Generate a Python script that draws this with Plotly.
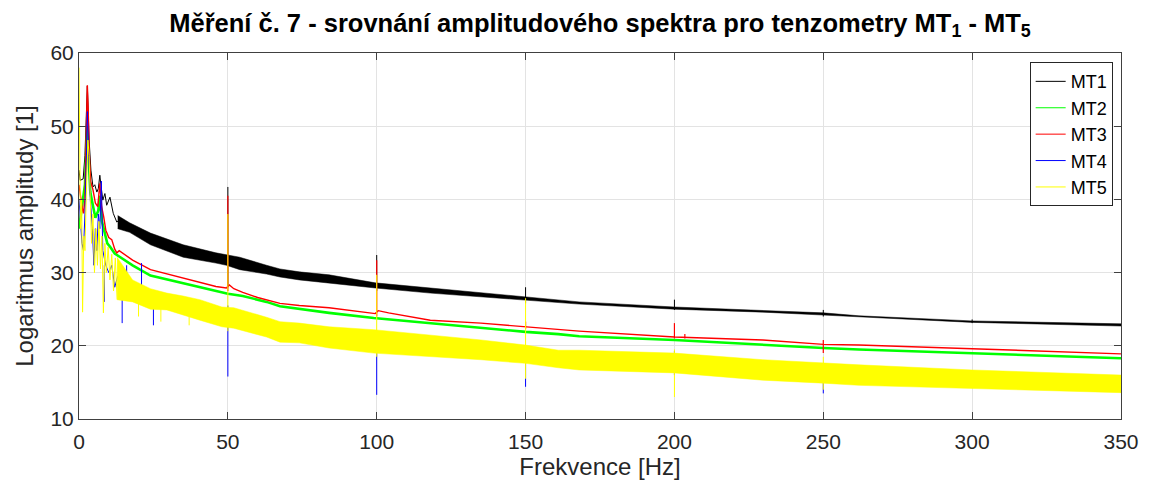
import plotly.graph_objects as go

# ---------------- data ----------------
X_TICKS = [0, 50, 100, 150, 200, 250, 300, 350]
Y_TICKS = [10, 20, 30, 40, 50, 60]
SERIES = ["MT1", "MT2", "MT3", "MT4", "MT5"]

# MT1 (black)
mt1_line_f = [0, 0.4, 1.4, 2.0, 2.5, 2.8, 3.1, 3.4, 4.0, 4.7, 5.3, 6.0, 6.5, 7.0, 7.5, 8.0, 8.7, 9.3, 10.4, 11.5, 12.7, 14.0]
mt1_line_v = [44.0, 42.6, 42.8, 46.0, 52.0, 55.5, 52.0, 48.1, 44.0, 41.7, 42.0, 41.0, 41.5, 43.3, 41.5, 39.9, 40.8, 39.2, 40.3, 38.1, 36.9, 37.4]
mt1_band_f = [13, 17, 24, 35, 46, 49.5, 54, 63, 67.5, 74, 84, 99.5, 118, 135, 150, 161, 168, 200, 229.7, 250, 262, 300, 350]
mt1_band_hi = [37.8, 36.8, 35.4, 33.8, 32.7, 32.4, 32.1, 31.0, 30.5, 30.1, 29.7, 28.6, 27.9, 27.2, 26.7, 26.3, 26.0, 25.3, 24.8, 24.5, 24.1, 23.4, 23.0]
mt1_band_lo = [36.0, 35.5, 33.8, 32.1, 31.3, 31.0, 30.4, 29.8, 29.4, 29.0, 28.6, 27.9, 27.2, 26.7, 26.3, 25.9, 25.7, 25.0, 24.6, 24.2, 23.9, 23.2, 22.7]
mt1_spike_f = [50, 100, 150, 200, 250, 300]
mt1_spike_lo = [28.0, 27.5, 25.8, 24.9, 24.0, 23.1]
mt1_spike_hi = [41.7, 32.4, 28.0, 26.3, 24.9, 23.6]

# MT2 (green)
mt2_line_f = [0, 0.5, 1.2, 2.0, 2.5, 2.8, 3.2, 3.8, 4.5, 5.5, 6.5, 7.0, 7.7, 8.5, 9.5, 10.5, 12.0, 13.5, 18, 24, 35, 46, 50, 55, 63, 67.5, 84, 99, 118, 135, 150, 161, 168, 200, 229.7, 250, 262, 300, 350]
mt2_line_v = [36.0, 37.5, 39.0, 42.0, 47.0, 50.0, 46.0, 41.0, 39.5, 37.5, 38.5, 40.5, 37.0, 35.5, 34.0, 33.5, 32.6, 32.2, 31.0, 29.6, 28.5, 27.4, 27.1, 26.8, 26.0, 25.4, 24.5, 23.8, 23.1, 22.5, 21.9, 21.6, 21.3, 20.8, 20.1, 19.7, 19.5, 19.0, 18.3]

# MT3 (red)
mt3_line_f = [0, 0.5, 1.0, 1.5, 2.0, 2.4, 2.8, 3.1, 3.4, 3.9, 4.7, 5.5, 6.3, 7.0, 7.6, 8.3, 9.0, 10.0, 11.0, 12.0, 12.7, 13.5, 18, 24, 35, 46, 49.5, 50.5, 52, 55, 60, 67.5, 74, 84, 99.5, 100.5, 104, 118, 135, 150, 161, 168, 200, 229.7, 250, 262, 300, 350]
mt3_line_v = [42.0, 40.3, 39.0, 38.1, 40.0, 48.0, 55.6, 52.0, 46.7, 42.5, 41.3, 39.5, 39.0, 42.2, 39.0, 37.6, 35.8, 34.8, 34.5, 33.2, 32.7, 33.0, 31.7, 30.4, 29.3, 28.1, 27.9, 28.3, 27.8, 27.3, 26.6, 25.8, 25.5, 25.2, 24.4, 24.8, 24.5, 23.5, 23.1, 22.6, 22.3, 22.0, 21.2, 20.8, 20.2, 20.1, 19.6, 18.9]
mt3_spike_f = [50, 100, 150, 200, 203.5, 250]
mt3_spike_lo = [27.5, 24.0, 22.3, 21.0, 21.0, 19.0]
mt3_spike_hi = [40.5, 31.7, 23.3, 23.1, 21.6, 20.8]

# MT4 (blue)
mt4_line_f = [0, 0.5, 1.0, 1.5, 2.0, 2.5, 2.8, 3.2, 3.8, 4.5, 5.0, 5.5, 6.0, 6.5, 7.0, 7.5, 8.0, 9.0, 10.0, 11.0, 12.0, 13.0, 24, 35, 46, 52, 63, 74, 84, 99, 118, 135, 150, 168, 200, 229.7, 250, 262, 300, 350]
mt4_line_v = [40.0, 37.0, 34.0, 33.0, 38.0, 46.0, 52.0, 47.0, 40.0, 36.0, 31.0, 36.0, 33.0, 38.0, 36.0, 42.5, 33.0, 31.0, 30.0, 31.0, 28.0, 29.5, 26.4, 25.5, 24.0, 23.8, 22.5, 21.7, 21.1, 20.6, 20.0, 19.4, 18.8, 18.0, 17.6, 16.7, 16.2, 16.0, 15.4, 14.8]
mt4_spike_f = [8.5, 14.5, 16, 21, 25, 49.5, 50, 100, 150, 200, 250]
mt4_spike_lo = [26.0, 23.1, 27.0, 28.0, 22.8, 23.5, 15.8, 13.3, 14.4, 16.0, 13.5]
mt4_spike_hi = [31.0, 29.0, 31.0, 31.3, 27.0, 25.0, 25.5, 20.5, 18.5, 19.3, 16.0]

# MT5 (yellow)
mt5_line_f = [0, 0.2, 0.5, 0.9, 1.2, 1.6, 2.0, 2.4, 2.7, 3.0, 3.4, 3.7, 4.2, 4.7, 5.2, 5.7, 6.2, 6.7, 7.2, 7.7, 8.2, 8.7, 9.2, 9.8, 10.4, 11.0, 11.6, 12.2, 12.8]
mt5_line_v = [58.0, 42.0, 36.0, 40.0, 24.6, 35.0, 33.0, 40.0, 46.0, 48.1, 46.0, 41.7, 34.0, 38.0, 30.0, 36.0, 31.0, 37.0, 30.5, 35.0, 24.5, 34.0, 30.0, 33.5, 29.0, 32.5, 27.5, 32.0, 26.3]
mt5_band_f = [12.8, 18, 24, 29.5, 35, 40.6, 48, 52, 63, 67.5, 74, 84, 99, 118, 135, 150, 161, 168, 200, 229.7, 250, 262, 300, 350]
mt5_band_hi = [32.1, 29.0, 27.8, 27.2, 26.8, 26.3, 25.3, 25.2, 23.9, 23.3, 23.1, 22.6, 22.2, 21.5, 20.8, 20.1, 19.4, 19.4, 19.0, 18.1, 17.6, 17.4, 16.7, 16.0]
mt5_band_lo = [26.3, 26.0, 25.0, 24.9, 24.2, 23.5, 22.6, 22.4, 21.2, 20.5, 20.4, 19.7, 19.0, 18.5, 18.1, 17.6, 17.0, 16.7, 16.3, 15.3, 14.9, 14.6, 14.2, 13.6]
mt5_spike_f = [20, 27.5, 37, 50, 100, 150, 200, 250]
mt5_spike_lo = [24.0, 23.3, 22.8, 22.0, 18.5, 15.5, 13.0, 14.0]
mt5_spike_hi = [28.0, 27.0, 26.0, 38.0, 29.7, 26.5, 19.5, 18.5]

COLORS = {"MT1": "#000000", "MT2": "#00ff00", "MT3": "#ff0000", "MT4": "#0000ff", "MT5": "#ffff00"}

# ---------------- helpers ----------------
def spike_xy(fs, los, his):
    xs, ys = [], []
    for f, lo, hi in zip(fs, los, his):
        xs += [f, f, None]
        ys += [lo, hi, None]
    return xs, ys


def band_xy(fs, his, los):
    return list(fs) + list(fs)[::-1], list(his) + list(los)[::-1]


fig = go.Figure()


def add_band(fs, his, los, color):
    bx, by = band_xy(fs, his, los)
    fig.add_trace(go.Scatter(x=bx, y=by, mode="lines", fill="toself", fillcolor=color,
                             line=dict(color=color, width=0.5), showlegend=False, hoverinfo="skip"))


def add_line(fs, vs, color, width):
    fig.add_trace(go.Scatter(x=fs, y=vs, mode="lines", line=dict(color=color, width=width),
                             showlegend=False, hoverinfo="skip"))


def add_spikes(fs, los, his, color, width=1):
    sx, sy = spike_xy(fs, los, his)
    fig.add_trace(go.Scatter(x=sx, y=sy, mode="lines", line=dict(color=color, width=width),
                             showlegend=False, hoverinfo="skip", connectgaps=False))


# MT1
add_line(mt1_line_f, mt1_line_v, COLORS["MT1"], 1)
add_band(mt1_band_f, mt1_band_hi, mt1_band_lo, COLORS["MT1"])
add_spikes(mt1_spike_f, mt1_spike_lo, mt1_spike_hi, COLORS["MT1"])
# MT2
add_line(mt2_line_f, mt2_line_v, COLORS["MT2"], 2.6)
# MT3
add_line(mt3_line_f, mt3_line_v, COLORS["MT3"], 1.4)
add_spikes(mt3_spike_f, mt3_spike_lo, mt3_spike_hi, COLORS["MT3"], 1.2)
# MT4
add_line(mt4_line_f, mt4_line_v, COLORS["MT4"], 1)
add_spikes(mt4_spike_f, mt4_spike_lo, mt4_spike_hi, COLORS["MT4"])
# MT5
add_line(mt5_line_f, mt5_line_v, COLORS["MT5"], 1)
add_band(mt5_band_f, mt5_band_hi, mt5_band_lo, COLORS["MT5"])
add_spikes(mt5_spike_f, mt5_spike_lo, mt5_spike_hi, COLORS["MT5"])

# legend entries
for name in SERIES:
    fig.add_trace(go.Scatter(x=[None], y=[None], mode="lines", name=name,
                             line=dict(color=COLORS[name], width=1)))

FONT = "Liberation Sans, Arial, sans-serif"
AX_COLOR = "#404040"
GRID = "#e3e3e3"

fig.update_layout(
    width=1142, height=484,
    margin=dict(l=71, r=29, t=45, b=73, autoexpand=False),
    paper_bgcolor="white", plot_bgcolor="white",
    font=dict(family=FONT, color="#262626", size=21),
    title=dict(
        text="<b>Měření č. 7 - srovnání amplitudového spektra pro tenzometry MT<sub>1</sub> - MT<sub>5</sub></b>",
        font=dict(family=FONT, size=25.5, color="#000000"),
        x=0.5, xref="paper", xanchor="center", y=0.988, yref="container", yanchor="top",
        automargin=False),
    legend=dict(x=0.992, y=0.975, xanchor="right", yanchor="top", bgcolor="white",
                bordercolor="#262626", borderwidth=1, font=dict(size=18, color="#000000", family=FONT),
                tracegroupgap=0, itemwidth=30),
    showlegend=True,
)

fig.update_xaxes(range=[0, 350], tickvals=X_TICKS, showgrid=True, gridcolor=GRID, gridwidth=1,
                 ticks="inside", ticklen=7, tickcolor=AX_COLOR, showline=True, linecolor=AX_COLOR,
                 linewidth=1, mirror="ticks", zeroline=False, automargin=False, ticklabelstandoff=4,
                 title=dict(text="Frekvence [Hz]", font=dict(size=24), standoff=4))
fig.update_yaxes(range=[10, 60], tickvals=Y_TICKS, showgrid=True, gridcolor=GRID, gridwidth=1,
                 ticks="inside", ticklen=7, tickcolor=AX_COLOR, showline=True, linecolor=AX_COLOR,
                 linewidth=1, mirror="ticks", zeroline=False, automargin=False,
                 title=dict(text="Logaritmus amplitudy [1]", font=dict(size=24), standoff=10))

fig.write_html("out.html")
